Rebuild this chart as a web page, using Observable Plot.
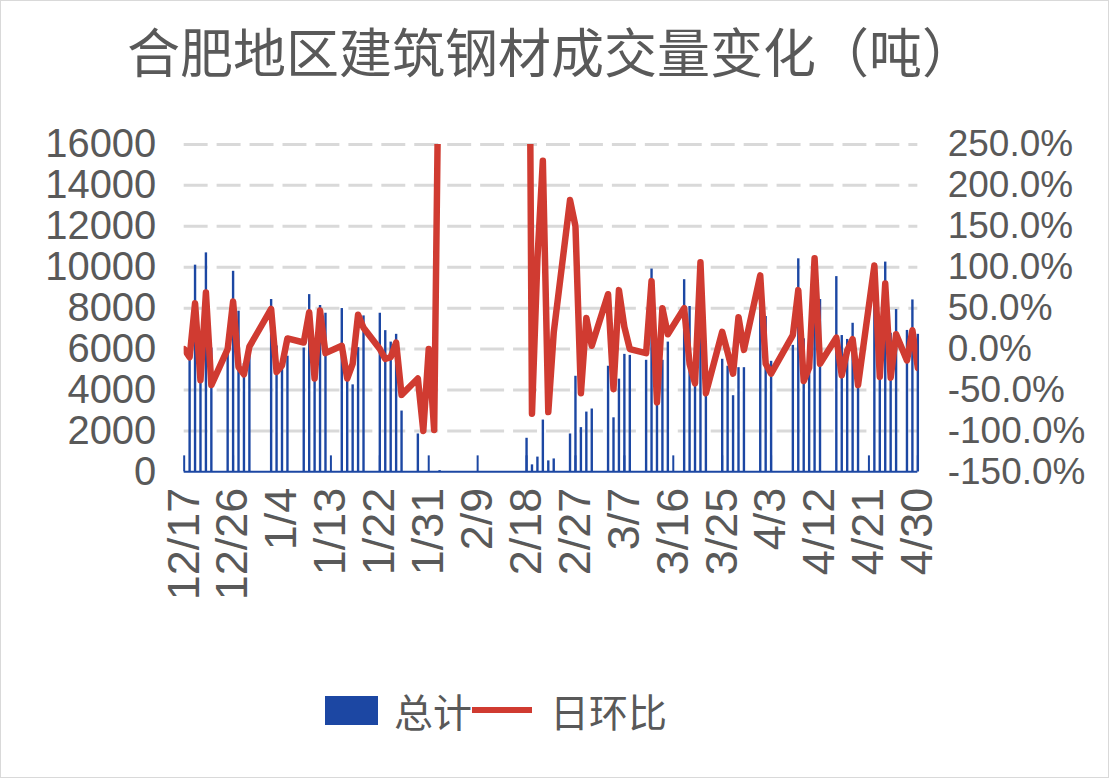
<!DOCTYPE html>
<html><head><meta charset="utf-8">
<script src="https://cdn.jsdelivr.net/npm/d3@7"></script>
<script src="https://cdn.jsdelivr.net/npm/@observablehq/plot@0.6"></script>
<style>
body{margin:0;background:#fff;}
#wrap{position:relative;width:1109px;height:778px;box-sizing:border-box;border:1px solid #d9d9d9;background:#fff;color:#595959;overflow:hidden}
#title{position:absolute;left:0;top:0;width:1100px;text-align:center;font-size:53px;line-height:98px;font-family:"Noto Sans CJK SC",sans-serif;white-space:nowrap}
#chart{position:absolute;left:0;top:104px;}
#legend{position:absolute;left:324px;top:686px;height:46px;display:flex;align-items:center;font-size:39px;font-family:"Noto Sans CJK SC",sans-serif;white-space:nowrap}
#legend .sw{width:53px;height:29px;background:#1c47a3;margin-right:16px}
#legend .ln{width:60px;height:6px;background:#d03b31;margin:0 18px 0 0}
</style></head>
<body>
<div id="wrap">
  <div id="title">合肥地区建筑钢材成交量变化（吨）</div>
  <div id="chart"></div>
  <div id="legend"><div class="sw"></div><span>总计</span><div class="ln"></div><span>日环比</span></div>
</div>
<script>
// Trading dates
const dates = [
"2019-12-17","2019-12-18","2019-12-19","2019-12-20","2019-12-21","2019-12-22",
"2019-12-25","2019-12-26","2019-12-27","2019-12-28","2019-12-29",
"2020-01-02","2020-01-03","2020-01-04","2020-01-05",
"2020-01-08","2020-01-09","2020-01-10","2020-01-11","2020-01-12",
"2020-01-15","2020-01-16","2020-01-17","2020-01-18","2020-01-19",
"2020-01-22","2020-01-23","2020-01-24","2020-01-25","2020-01-26",
"2020-01-29","2020-01-30","2020-01-31","2020-02-01","2020-02-02",
"2020-02-18","2020-02-19","2020-02-20","2020-02-21","2020-02-22","2020-02-23",
"2020-02-26","2020-02-27","2020-02-28","2020-02-29","2020-03-01",
"2020-03-04","2020-03-05","2020-03-06","2020-03-07","2020-03-08",
"2020-03-11","2020-03-12","2020-03-13","2020-03-14","2020-03-15",
"2020-03-18","2020-03-19","2020-03-20","2020-03-21","2020-03-22",
"2020-03-25","2020-03-26","2020-03-27","2020-03-28","2020-03-29",
"2020-04-01","2020-04-02","2020-04-03",
"2020-04-07","2020-04-08","2020-04-09","2020-04-10","2020-04-11","2020-04-12",
"2020-04-15","2020-04-16","2020-04-17","2020-04-18","2020-04-19",
"2020-04-22","2020-04-23","2020-04-24","2020-04-25","2020-04-26",
"2020-04-28","2020-04-29","2020-04-30"
];
// 总计 (吨)
const totals = [
null,6300,10100,6300,10700,6050,
5950,9800,7850,5300,5750,
8420,6150,5200,5650,
6050,8660,5500,8130,7750,
7980,5100,4250,6070,7620,
7750,6900,6340,6720,2970,
1850,0,0,0,60,
1640,340,720,2530,535,630,
1850,4670,2160,2920,3070,
5160,2640,4530,5740,5690,
5450,9910,3600,5450,6340,
9390,8080,4690,9660,4440,
5500,5160,3720,5090,5090,
9670,7590,5400,
6180,10410,6500,5000,10400,8420,
9540,6660,6470,7260,4070,
8220,5700,10250,6770,7930,
6910,8400,6720
];
// 日环比 (%)
const ratios = [
0,-10,56,-38,69,-44,
0,58,-22,-31,3,
49,-28,-20,13,
8,45,-36,47,-5,
4,-36,-18,42,26,
0,-12,-10,8,-56,
-36,-100,0,-99,460,
1000,-79,110,230,-77,20,
182,150,-54,38,4,
67,-49,72,27,0,
-5,83,-65,50,18,
50,-18,-42,106,-54,
21,-4,-30,39,-1,
90,-18,-30,
17,72,-39,-23,111,-18,
14,-32,-2,12,-44,
102,-34,80,-35,18,
-14,23,-23
];
// x tick labels (every 9 days)
const tickLabels = ["12/17","12/26","1/4","1/13","1/22","1/31","2/9","2/18","2/27","3/7","3/16","3/25","4/3","4/12","4/21","4/30"];
const tickDates = ["2019-12-17","2019-12-26","2020-01-04","2020-01-13","2020-01-22","2020-01-31","2020-02-09","2020-02-18","2020-02-27","2020-03-07","2020-03-16","2020-03-25","2020-04-03","2020-04-12","2020-04-21","2020-04-30"];
const yTicks = [0,2000,4000,6000,8000,10000,12000,14000,16000];
const pctTicks = [-150,-100,-50,0,50,100,150,200,250];

const BLUE = "#1c47a3", RED = "#d03b31", GRID = "#d9d9d9";
const toY = p => (p + 150) * 40; // right axis (-150%..250%) onto left (0..16000)

const data = dates.map((d, i) => ({date: new Date(d), total: totals[i], ratio: ratios[i]}));
const tks = tickDates.map(d => new Date(d));
const labelOf = new Map(tks.map((d, i) => [+d, tickLabels[i]]));

const chart = Plot.plot({
  width: 1109, height: 530,
  marginLeft: 183, marginRight: 191, marginTop: 39, marginBottom: 163,
  style: {fontFamily: "'Liberation Sans', 'Noto Sans CJK SC', sans-serif", fontSize: "40px", color: "#595959", background: "transparent", overflow: "visible"},
  x: {type: "utc", domain: [new Date("2019-12-17"), new Date("2020-04-30")], label: null},
  y: {domain: [0, 16000], label: null},
  marks: [
    Plot.gridY(yTicks.slice(1), {stroke: GRID, strokeOpacity: 1, strokeWidth: 3, strokeDasharray: "24,9"}),
    Plot.axisY(yTicks, {anchor: "left", label: null, tickSize: 0, tickPadding: 28, tickFormat: d => String(d), fill: "#595959", fontSize: 40}),
    Plot.axisY(pctTicks.map(toY), {anchor: "right", label: null, tickSize: 0, tickPadding: 30, tickFormat: d => (d / 40 - 150).toFixed(1) + "%", fill: "#595959", fontSize: 37}),
    Plot.ruleX(data.filter(d => d.total != null && d.total > 0), {x: "date", y1: 0, y2: "total", stroke: BLUE, strokeWidth: 2.4}),
    Plot.ruleX(tks, {x: d => d, y1: 0, y2: 780, stroke: BLUE, strokeWidth: 2}),
    Plot.ruleY([0], {stroke: BLUE, strokeWidth: 2}),
    Plot.line(data.filter(d => d.ratio != null), {x: "date", y: d => toY(d.ratio), stroke: RED, strokeWidth: 6.5, strokeLinejoin: "round", strokeLinecap: "round", clip: true}),
    Plot.axisX(tks, {anchor: "bottom", label: null, tickRotate: -90, tickSize: 0, tickPadding: 16, tickFormat: d => labelOf.get(+d), fill: "#595959", fontSize: 45})
  ]
});
document.getElementById("chart").appendChild(chart);
</script>
</body></html>
